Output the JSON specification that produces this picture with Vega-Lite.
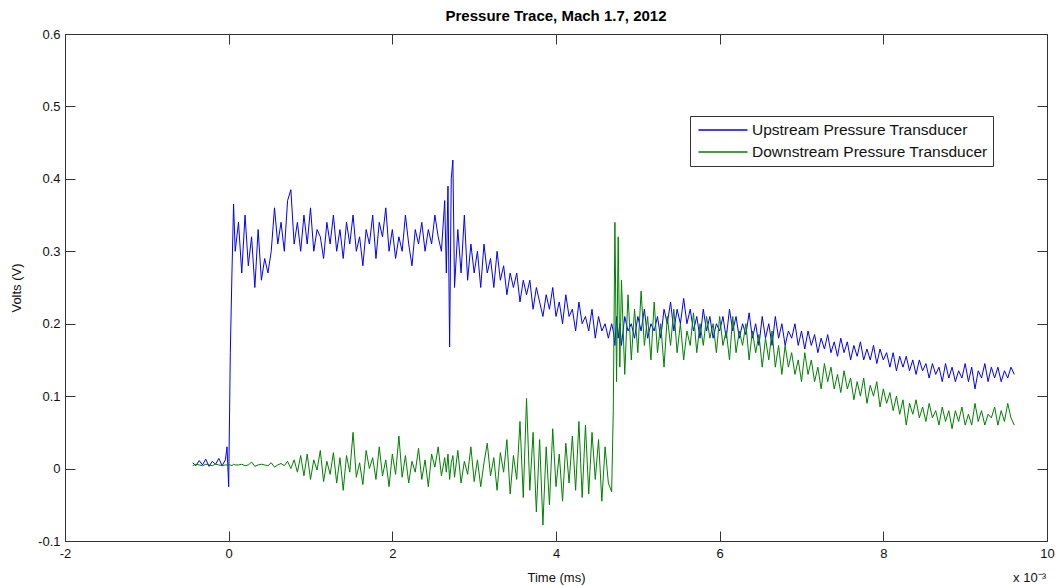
{
"$schema":"https://vega.github.io/schema/vega-lite/v6.json",
"width":982,"height":507,
"autosize":"none",
"padding":{"left":65,"top":34,"right":12,"bottom":45},
"background":"white",
"title":{"text":"Pressure Trace, Mach 1.7, 2012","font":"Liberation Sans","fontSize":15,"fontWeight":"bold","color":"#000","offset":4},
"config":{"view":{"stroke":"#333","strokeWidth":1},"axis":{"grid":false,"domainColor":"#333","tickColor":"#333","tickSize":-10,"labelFont":"Liberation Sans","labelFontSize":13,"labelColor":"#111","titleFont":"Liberation Sans","titleFontSize":13,"titleFontWeight":"normal","titleColor":"#111"}},
"resolve":{"axis":{"x":"independent","y":"independent"}},
"layer":[
{
"data":{"values":[
{"t":-0.44,"u":0.008,"d":0.004},{"t":-0.40,"u":0.004,"d":0.006},{"t":-0.36,"u":0.011,"d":0.005},{"t":-0.32,"u":0.005,"d":0.004},{"t":-0.28,"u":0.013,"d":0.006},{"t":-0.24,"u":0.003,"d":0.005},{"t":-0.20,"u":0.010,"d":0.004},{"t":-0.16,"u":0.006,"d":0.006},{"t":-0.12,"u":0.014,"d":0.005},{"t":-0.08,"u":0.004,"d":0.004},{"t":-0.04,"u":0.012,"d":0.005},{"t":-0.02,"u":0.030,"d":0.005},{"t":0.00,"u":-0.025,"d":0.005},{"t":0.02,"u":0.16,"d":0.005},{"t":0.04,"u":0.27,"d":0.004},{"t":0.06,"u":0.365,"d":0.006},{"t":0.08,"u":0.30,"d":0.005},
{"t":0.12,"u":0.34,"d":0.005},{"t":0.16,"u":0.27,"d":0.006},{"t":0.20,"u":0.35,"d":0.004},{"t":0.24,"u":0.28,"d":0.005},{"t":0.28,"u":0.32,"d":0.009},{"t":0.32,"u":0.25,"d":0.003},{"t":0.36,"u":0.33,"d":0.005},{"t":0.40,"u":0.26,"d":0.006},{"t":0.44,"u":0.29,"d":0.005},{"t":0.48,"u":0.27,"d":0.004},{"t":0.52,"u":0.30,"d":0.008},{"t":0.56,"u":0.36,"d":0.002},{"t":0.60,"u":0.31,"d":0.005},{"t":0.64,"u":0.34,"d":0.007},{"t":0.68,"u":0.30,"d":0.004},{"t":0.72,"u":0.37,"d":0.010},{"t":0.76,"u":0.385,"d":0.000},{"t":0.80,"u":0.31,"d":0.012},{"t":0.84,"u":0.34,"d":-0.005},{"t":0.88,"u":0.30,"d":0.018},{"t":0.92,"u":0.35,"d":-0.010},{"t":0.96,"u":0.31,"d":0.020},{"t":1.00,"u":0.36,"d":-0.015},
{"t":1.04,"u":0.30,"d":0.012},{"t":1.08,"u":0.33,"d":-0.002},{"t":1.12,"u":0.32,"d":0.025},{"t":1.16,"u":0.29,"d":-0.018},{"t":1.20,"u":0.34,"d":0.010},{"t":1.24,"u":0.31,"d":-0.008},{"t":1.28,"u":0.35,"d":0.022},{"t":1.32,"u":0.30,"d":-0.020},{"t":1.36,"u":0.33,"d":0.015},{"t":1.40,"u":0.29,"d":-0.030},{"t":1.44,"u":0.34,"d":0.018},{"t":1.48,"u":0.31,"d":-0.005},{"t":1.52,"u":0.35,"d":0.050},{"t":1.56,"u":0.30,"d":-0.012},{"t":1.60,"u":0.32,"d":0.008},{"t":1.64,"u":0.28,"d":-0.022},{"t":1.68,"u":0.33,"d":0.025},{"t":1.72,"u":0.31,"d":0.000},{"t":1.76,"u":0.35,"d":0.015},{"t":1.80,"u":0.29,"d":-0.015},{"t":1.84,"u":0.34,"d":0.030},{"t":1.88,"u":0.32,"d":-0.010},{"t":1.92,"u":0.36,"d":0.012},{"t":1.96,"u":0.30,"d":-0.025},{"t":2.00,"u":0.33,"d":0.020},
{"t":2.04,"u":0.29,"d":-0.008},{"t":2.08,"u":0.32,"d":0.045},{"t":2.12,"u":0.30,"d":-0.012},{"t":2.16,"u":0.35,"d":0.018},{"t":2.20,"u":0.31,"d":-0.020},{"t":2.24,"u":0.28,"d":0.010},{"t":2.28,"u":0.33,"d":-0.005},{"t":2.32,"u":0.31,"d":0.028},{"t":2.36,"u":0.34,"d":-0.015},{"t":2.40,"u":0.30,"d":0.012},{"t":2.44,"u":0.33,"d":-0.025},{"t":2.48,"u":0.31,"d":0.020},{"t":2.52,"u":0.35,"d":0.002},{"t":2.56,"u":0.32,"d":0.030},{"t":2.60,"u":0.30,"d":-0.010},{"t":2.64,"u":0.37,"d":0.015},{"t":2.66,"u":0.27,"d":-0.005},{"t":2.68,"u":0.39,"d":0.020},{"t":2.70,"u":0.168,"d":-0.015},{"t":2.72,"u":0.40,"d":0.008},{"t":2.74,"u":0.426,"d":0.018},{"t":2.76,"u":0.25,"d":-0.012},{"t":2.80,"u":0.33,"d":0.025},{"t":2.84,"u":0.27,"d":-0.020},{"t":2.88,"u":0.35,"d":0.010},{"t":2.92,"u":0.26,"d":-0.008},{"t":2.96,"u":0.31,"d":0.030},{"t":3.00,"u":0.27,"d":-0.018},
{"t":3.04,"u":0.30,"d":0.012},{"t":3.08,"u":0.25,"d":-0.025},{"t":3.12,"u":0.31,"d":0.008},{"t":3.16,"u":0.27,"d":0.035},{"t":3.20,"u":0.29,"d":-0.010},{"t":3.24,"u":0.25,"d":0.015},{"t":3.28,"u":0.30,"d":-0.030},{"t":3.32,"u":0.26,"d":0.022},{"t":3.36,"u":0.28,"d":-0.005},{"t":3.40,"u":0.24,"d":0.040},{"t":3.44,"u":0.27,"d":-0.035},{"t":3.48,"u":0.25,"d":0.018},{"t":3.52,"u":0.27,"d":-0.015},{"t":3.56,"u":0.23,"d":0.065},{"t":3.60,"u":0.26,"d":-0.040},{"t":3.64,"u":0.24,"d":0.097},{"t":3.68,"u":0.26,"d":-0.030},{"t":3.72,"u":0.22,"d":0.050},{"t":3.76,"u":0.25,"d":-0.060},{"t":3.80,"u":0.23,"d":0.040},{"t":3.84,"u":0.21,"d":-0.078},{"t":3.88,"u":0.24,"d":0.030},{"t":3.92,"u":0.22,"d":-0.050},{"t":3.96,"u":0.25,"d":0.055},{"t":4.00,"u":0.21,"d":-0.025},
{"t":4.04,"u":0.23,"d":0.020},{"t":4.08,"u":0.20,"d":-0.045},{"t":4.12,"u":0.24,"d":0.035},{"t":4.16,"u":0.21,"d":-0.020},{"t":4.20,"u":0.22,"d":0.045},{"t":4.24,"u":0.19,"d":-0.030},{"t":4.28,"u":0.23,"d":0.065},{"t":4.32,"u":0.20,"d":-0.040},{"t":4.36,"u":0.21,"d":0.060},{"t":4.40,"u":0.19,"d":-0.035},{"t":4.44,"u":0.22,"d":0.050},{"t":4.48,"u":0.18,"d":-0.015},{"t":4.52,"u":0.21,"d":0.040},{"t":4.56,"u":0.19,"d":-0.045},{"t":4.60,"u":0.20,"d":0.030},{"t":4.64,"u":0.18,"d":-0.020},{"t":4.68,"u":0.20,"d":-0.032},{"t":4.70,"u":0.19,"d":0.08},{"t":4.72,"u":0.17,"d":0.34},{"t":4.74,"u":0.21,"d":0.12},{"t":4.76,"u":0.18,"d":0.32},{"t":4.78,"u":0.20,"d":0.14},{"t":4.80,"u":0.17,"d":0.26},{"t":4.84,"u":0.21,"d":0.13},{"t":4.88,"u":0.19,"d":0.24},{"t":4.92,"u":0.20,"d":0.15},{"t":4.96,"u":0.18,"d":0.22},{"t":5.00,"u":0.21,"d":0.16},
{"t":5.04,"u":0.19,"d":0.245},{"t":5.08,"u":0.22,"d":0.17},{"t":5.12,"u":0.18,"d":0.21},{"t":5.16,"u":0.20,"d":0.15},{"t":5.20,"u":0.19,"d":0.23},{"t":5.24,"u":0.21,"d":0.16},{"t":5.28,"u":0.18,"d":0.20},{"t":5.32,"u":0.22,"d":0.14},{"t":5.36,"u":0.20,"d":0.21},{"t":5.40,"u":0.23,"d":0.17},{"t":5.44,"u":0.19,"d":0.22},{"t":5.48,"u":0.22,"d":0.16},{"t":5.52,"u":0.20,"d":0.20},{"t":5.56,"u":0.235,"d":0.15},{"t":5.60,"u":0.20,"d":0.19},{"t":5.64,"u":0.22,"d":0.17},{"t":5.68,"u":0.19,"d":0.215},{"t":5.72,"u":0.21,"d":0.16},{"t":5.76,"u":0.18,"d":0.20},{"t":5.80,"u":0.22,"d":0.17},{"t":5.84,"u":0.19,"d":0.21},{"t":5.88,"u":0.21,"d":0.18},{"t":5.92,"u":0.18,"d":0.20},{"t":5.96,"u":0.20,"d":0.16},{"t":6.00,"u":0.19,"d":0.21},
{"t":6.04,"u":0.21,"d":0.17},{"t":6.08,"u":0.18,"d":0.19},{"t":6.12,"u":0.22,"d":0.15},{"t":6.16,"u":0.19,"d":0.21},{"t":6.20,"u":0.21,"d":0.16},{"t":6.24,"u":0.18,"d":0.19},{"t":6.28,"u":0.20,"d":0.17},{"t":6.32,"u":0.185,"d":0.20},{"t":6.36,"u":0.215,"d":0.15},{"t":6.40,"u":0.18,"d":0.19},{"t":6.44,"u":0.20,"d":0.16},{"t":6.48,"u":0.17,"d":0.185},{"t":6.52,"u":0.21,"d":0.14},{"t":6.56,"u":0.18,"d":0.18},{"t":6.60,"u":0.20,"d":0.15},{"t":6.64,"u":0.17,"d":0.19},{"t":6.68,"u":0.21,"d":0.14},{"t":6.72,"u":0.18,"d":0.17},{"t":6.76,"u":0.20,"d":0.13},{"t":6.80,"u":0.17,"d":0.17},{"t":6.84,"u":0.19,"d":0.14},{"t":6.88,"u":0.18,"d":0.16},{"t":6.92,"u":0.20,"d":0.13},{"t":6.96,"u":0.17,"d":0.15},{"t":7.00,"u":0.19,"d":0.12},
{"t":7.04,"u":0.165,"d":0.16},{"t":7.08,"u":0.19,"d":0.13},{"t":7.12,"u":0.17,"d":0.15},{"t":7.16,"u":0.185,"d":0.12},{"t":7.20,"u":0.16,"d":0.14},{"t":7.24,"u":0.18,"d":0.11},{"t":7.28,"u":0.165,"d":0.145},{"t":7.32,"u":0.185,"d":0.12},{"t":7.36,"u":0.16,"d":0.14},{"t":7.40,"u":0.175,"d":0.11},{"t":7.44,"u":0.155,"d":0.13},{"t":7.48,"u":0.18,"d":0.105},{"t":7.52,"u":0.16,"d":0.135},{"t":7.56,"u":0.175,"d":0.11},{"t":7.60,"u":0.15,"d":0.125},{"t":7.64,"u":0.17,"d":0.095},{"t":7.68,"u":0.155,"d":0.12},{"t":7.72,"u":0.175,"d":0.10},{"t":7.76,"u":0.15,"d":0.125},{"t":7.80,"u":0.165,"d":0.09},{"t":7.84,"u":0.15,"d":0.115},{"t":7.88,"u":0.17,"d":0.10},{"t":7.92,"u":0.145,"d":0.12},{"t":7.96,"u":0.165,"d":0.085},{"t":8.00,"u":0.15,"d":0.11},
{"t":8.04,"u":0.16,"d":0.09},{"t":8.08,"u":0.14,"d":0.105},{"t":8.12,"u":0.16,"d":0.08},{"t":8.16,"u":0.135,"d":0.10},{"t":8.20,"u":0.155,"d":0.075},{"t":8.24,"u":0.14,"d":0.095},{"t":8.28,"u":0.155,"d":0.06},{"t":8.32,"u":0.135,"d":0.09},{"t":8.36,"u":0.15,"d":0.075},{"t":8.40,"u":0.13,"d":0.095},{"t":8.44,"u":0.15,"d":0.07},{"t":8.48,"u":0.135,"d":0.085},{"t":8.52,"u":0.145,"d":0.065},{"t":8.56,"u":0.125,"d":0.09},{"t":8.60,"u":0.145,"d":0.07},{"t":8.64,"u":0.13,"d":0.08},{"t":8.68,"u":0.14,"d":0.06},{"t":8.72,"u":0.12,"d":0.085},{"t":8.76,"u":0.145,"d":0.065},{"t":8.80,"u":0.125,"d":0.08},{"t":8.84,"u":0.14,"d":0.055},{"t":8.88,"u":0.12,"d":0.08},{"t":8.92,"u":0.135,"d":0.065},{"t":8.96,"u":0.125,"d":0.085},{"t":9.00,"u":0.145,"d":0.06},
{"t":9.04,"u":0.12,"d":0.075},{"t":9.08,"u":0.14,"d":0.06},{"t":9.12,"u":0.11,"d":0.09},{"t":9.16,"u":0.135,"d":0.065},{"t":9.20,"u":0.125,"d":0.08},{"t":9.24,"u":0.145,"d":0.06},{"t":9.28,"u":0.12,"d":0.075},{"t":9.32,"u":0.14,"d":0.07},{"t":9.36,"u":0.125,"d":0.085},{"t":9.40,"u":0.14,"d":0.06},{"t":9.44,"u":0.12,"d":0.08},{"t":9.48,"u":0.135,"d":0.065},{"t":9.52,"u":0.125,"d":0.09},{"t":9.56,"u":0.14,"d":0.07},{"t":9.60,"u":0.13,"d":0.06}
]},
"transform":[{"fold":["u","d"],"as":["s","v"]}],
"mark":{"type":"line","strokeWidth":1,"clip":true},
"encoding":{
"x":{"field":"t","type":"quantitative","scale":{"domain":[-2,10],"nice":false,"zero":false},"axis":{"values":[-2,0,2,4,6,8,10],"labelExpr":"toString(datum.value)","title":"Time (ms)","labelPadding":16,"titleY":36,"titleBaseline":"middle","labelFlush":false}},
"y":{"field":"v","type":"quantitative","scale":{"domain":[-0.1,0.6],"nice":false,"zero":false},"axis":{"values":[-0.1,0,0.1,0.2,0.3,0.4,0.5,0.6],"labelExpr":"toString(round(datum.value*10)/10)","title":"Volts (V)","labelPadding":15,"titleX":-42}},
"color":{"field":"s","type":"nominal","sort":["u","d"],"scale":{"domain":["u","d"],"range":["#0000ff","#008000"]},
"legend":{"orient":"none","legendX":625,"legendY":82,"title":null,"symbolType":"M-0.69,0H5.44","symbolSize":256,"symbolStrokeWidth":1.3,"labelFont":"Liberation Sans","labelFontSize":15.5,"labelColor":"#111","strokeColor":"#333","fillColor":"white","padding":5,"rowPadding":4,"labelOffset":39,"labelLimit":400,
"labelExpr":"datum.value == 'u' ? 'Upstream Pressure Transducer' : 'Downstream Pressure Transducer'"}},
"detail":{"field":"s"}
}
},
{
"data":{"values":[{"t":10,"v":-0.1,"lab":"x 10⁻³"}]},
"mark":{"type":"text","align":"right","baseline":"middle","dy":37,"dx":-1,"font":"Liberation Sans","fontSize":13,"color":"#111"},
"encoding":{
"x":{"field":"t","type":"quantitative","scale":{"domain":[-2,10],"nice":false,"zero":false},"axis":{"orient":"top","values":[-2,0,2,4,6,8,10],"labels":false,"title":null}},
"y":{"field":"v","type":"quantitative","scale":{"domain":[-0.1,0.6],"nice":false,"zero":false},"axis":{"orient":"right","values":[-0.1,0,0.1,0.2,0.3,0.4,0.5,0.6],"labels":false,"title":null}},
"text":{"field":"lab"}
}
}
]
}
